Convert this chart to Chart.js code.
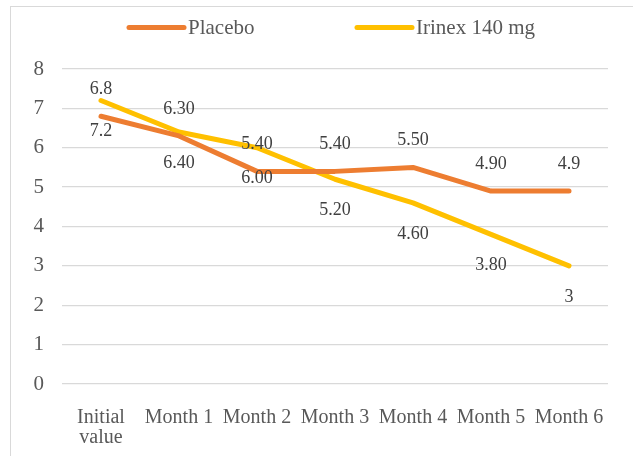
<!DOCTYPE html>
<html>
<head>
<meta charset="utf-8">
<script src="https://cdn.jsdelivr.net/npm/chart.js@4"></script>
<style>
  html, body { margin: 0; padding: 0; background: #fff; }
  #wrap { position: relative; width: 633px; height: 456px; }
</style>
</head>
<body>
<div id="wrap"><canvas id="myChart" width="633" height="456"></canvas></div>
<script>
const categories = [["Initial", "value"], "Month 1", "Month 2", "Month 3", "Month 4", "Month 5", "Month 6"];
const placebo = [6.8, 6.3, 5.4, 5.4, 5.5, 4.9, 4.9];
const irinex = [7.2, 6.4, 6.0, 5.2, 4.6, 3.8, 3.0];
const placeboLabels = ["6.8", "6.30", "5.40", "5.40", "5.50", "4.90", "4.9"];
const irinexLabels = ["7.2", "6.40", "6.00", "5.20", "4.60", "3.80", "3"];
const yTicks = [0, 1, 2, 3, 4, 5, 6, 7, 8];

const FONT = "'Liberation Serif', 'Times New Roman', serif";

// frame, legend and value labels
const extras = {
  id: "extras",
  beforeDraw(chart) {
    const ctx = chart.ctx;
    ctx.save();
    ctx.strokeStyle = "#d9d9d9";
    ctx.lineWidth = 1;
    ctx.strokeRect(10.5, 6.5, 640, 460);
    ctx.restore();
  },
  afterDatasetsDraw(chart) {
    const ctx = chart.ctx;
    ctx.save();
    ctx.font = "18px " + FONT;
    ctx.fillStyle = "#404040";
    ctx.textAlign = "center";
    ctx.textBaseline = "middle";
    const texts = [placeboLabels, irinexLabels];
    const offs = [-27, 31];
    chart.data.datasets.forEach((ds, i) => {
      chart.getDatasetMeta(i).data.forEach((pt, j) => {
        ctx.fillText(texts[i][j], pt.x, pt.y + offs[i]);
      });
    });

    // legend
    const items = [{x: 129, w: 55}, {x: 357, w: 55}];
    ctx.font = "21px " + FONT;
    ctx.textAlign = "left";
    ctx.fillStyle = "#595959";
    chart.data.datasets.forEach((ds, i) => {
      const it = items[i];
      ctx.beginPath();
      ctx.strokeStyle = ds.borderColor;
      ctx.lineWidth = 5;
      ctx.lineCap = "round";
      ctx.moveTo(it.x, 27.5);
      ctx.lineTo(it.x + it.w, 27.5);
      ctx.stroke();
      ctx.fillText(ds.label, it.x + it.w + 4, 28);
    });
    ctx.restore();
  }
};

new Chart(document.getElementById("myChart"), {
  type: "line",
  data: {
    labels: categories,
    datasets: [
      {
        label: "Placebo",
        data: placebo,
        borderColor: "#ED7D31",
        backgroundColor: "#ED7D31",
        borderWidth: 5,
        borderCapStyle: "round",
        borderJoinStyle: "round",
        pointRadius: 0,
        tension: 0
      },
      {
        label: "Irinex 140 mg",
        data: irinex,
        borderColor: "#FFC000",
        backgroundColor: "#FFC000",
        borderWidth: 5,
        borderCapStyle: "round",
        borderJoinStyle: "round",
        pointRadius: 0,
        tension: 0
      }
    ]
  },
  options: {
    responsive: false,
    animation: false,
    devicePixelRatio: 1,
    layout: { padding: { left: 30, right: 25, top: 69, bottom: 0 } },
    plugins: {
      legend: { display: false },
      tooltip: { enabled: false }
    },
    scales: {
      x: {
        offset: true,
        grid: { display: false, drawTicks: false },
        border: { display: false },
        ticks: {
          color: "#595959",
          font: { family: FONT, size: 20, lineHeight: 1 },
          maxRotation: 0,
          autoSkip: false,
          padding: 24
        },
        afterFit(s) { s.height = 72; }
      },
      y: {
        min: 0,
        max: 8,
        afterBuildTicks(s) { s.ticks = yTicks.map(v => ({ value: v })); },
        grid: { color: "#d9d9d9", lineWidth: 1.3, drawTicks: false },
        border: { display: false },
        ticks: {
          color: "#595959",
          font: { family: FONT, size: 21 },
          padding: 18
        },
        afterFit(s) { s.width = 32; }
      }
    }
  },
  plugins: [extras]
});
</script>
</body>
</html>
